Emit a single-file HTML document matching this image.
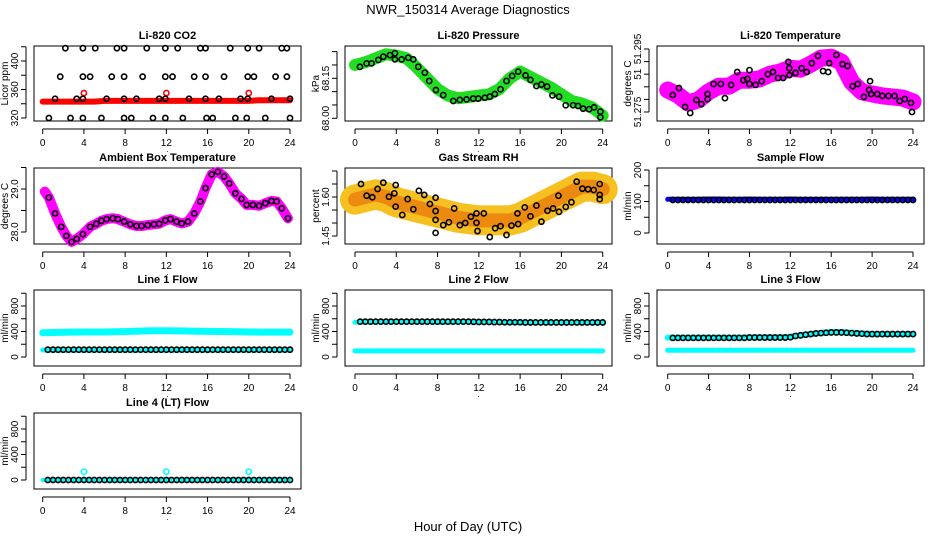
<!DOCTYPE html>
<html><head><meta charset="utf-8"><title>NWR_150314 Average Diagnostics</title>
<style>
html,body{margin:0;padding:0;background:#fff;}
svg{display:block;font-family:"Liberation Sans",Arial,sans-serif;}
</style></head>
<body>
<svg id="chart" width="936" height="540" viewBox="0 0 936 540" xmlns="http://www.w3.org/2000/svg">
<rect x="0" y="0" width="936" height="540" fill="#fff"/>
<text x="468" y="14" text-anchor="middle" font-size="13">NWR_150314  Average Diagnostics</text>
<text x="468" y="531" text-anchor="middle" font-size="13">Hour of Day (UTC)</text>
</svg>
<script>
// ---------- data ----------
const xTicks = [0,4,8,12,16,20,24];
const hourly = [0,1,2,3,4,5,6,7,8,9,10,11,12,13,14,15,16,17,18,19,20,21,22,23,24];
const flowHours = [0.5,1,1.5,2,2.5,3,3.5,4,4.5,5,5.5,6,6.5,7,7.5,8,8.5,9,9.5,10,10.5,11,11.5,12,12.5,13,13.5,14,14.5,15,15.5,16,16.5,17,17.5,18,18.5,19,19.5,20,20.5,21,21.5,22,22.5,23,23.5,24];

// CO2
const co2Band = [343,343,343,343,343,343,344,344,344,344,344,344,344,344,344,344,344,344,344,344,344,345,345,345,345];
const co2Hours = [2.2,3.9,5.1,7.2,7.9,10.1,11.9,13.1,15.3,15.8,18.2,19.9,21.0,23.2,23.7,
 1.7,3.9,4.6,6.7,7.9,9.7,11.9,12.6,14.7,15.8,17.6,19.9,20.5,22.6,23.7,
 1.2,3.3,3.9,6.2,7.9,9.1,11.3,11.9,14.2,15.8,17.1,19.2,19.9,22.2,24.0,
 0.6,2.7,3.9,5.7,7.9,8.6,10.7,11.9,13.6,15.9,16.5,18.7,19.8,21.6,24.0];
const co2Values = [418,418,418,418,418,418,418,418,418,418,418,418,418,418,418,
 378,378,378,378,378,378,378,378,378,378,378,378,378,378,378,
 347,347,347,347,347,347,347,347,347,347,347,347,347,347,347,
 320,320,320,320,320,320,320,320,320,320,320,320,320,320,320];
const co2RedHours = [4,12,20];
const co2RedValues = [355,355,355];

// Pressure
const presBand = [68.20,68.21,68.225,68.24,68.235,68.225,68.19,68.15,68.11,68.085,68.075,68.08,68.085,68.09,68.11,68.15,68.175,68.155,68.135,68.115,68.09,68.065,68.055,68.04,68.01];
const presHours = [0.48,1.13,1.61,2.26,2.74,3.39,3.87,3.87,4.52,5.16,5.65,6.13,6.77,7.19,7.84,8.55,9.52,10.16,10.81,11.45,11.94,12.58,13.06,13.55,14.1,14.68,15.23,15.81,16.52,17.0,17.58,18.06,18.61,19.13,19.77,20.42,21.13,21.61,22.1,22.68,23.16,23.77,23.77];
const presValues = [68.193,68.206,68.206,68.219,68.231,68.237,68.221,68.244,68.221,68.227,68.221,68.193,68.171,68.140,68.106,68.087,68.065,68.069,68.071,68.074,68.074,68.077,68.081,68.091,68.109,68.140,68.159,68.175,68.161,68.144,68.121,68.127,68.119,68.086,68.081,68.049,68.049,68.046,68.036,68.034,68.041,68.025,68.004];

// Li-820 temperature
const tempBand = [51.2820,51.2804,51.2779,51.2788,51.2814,51.2832,51.2832,51.2851,51.2851,51.2855,51.2870,51.2877,51.2889,51.2886,51.2902,51.2921,51.2924,51.2908,51.2845,51.2814,51.2807,51.2801,51.2798,51.2794,51.2782];
const tempHours = [0.5,1.1,1.7,2.2,2.8,3.3,3.9,3.9,4.5,5.2,5.6,6.2,6.8,7.4,7.8,8.0,8.0,8.6,9.2,9.8,10.3,10.8,11.3,11.8,11.9,11.9,12.5,13.1,13.6,14.1,14.7,15.2,15.7,15.8,16.5,17.1,17.6,18.1,18.6,19.2,19.7,19.8,19.9,20.5,21.0,21.6,22.2,22.7,23.2,23.8,23.9];
const tempValues = [51.2804,51.2826,51.2766,51.2747,51.2788,51.2775,51.2791,51.2807,51.2839,51.2839,51.2794,51.2836,51.2877,51.2851,51.2855,51.2883,51.2839,51.2836,51.2848,51.2870,51.2877,51.2858,51.2858,51.2909,51.2889,51.2867,51.2874,51.2889,51.2877,51.2905,51.2928,51.2880,51.2877,51.2905,51.2931,51.2902,51.2896,51.2832,51.2839,51.2798,51.2820,51.2848,51.2807,51.2807,51.2801,51.2801,51.2801,51.2785,51.2791,51.2779,51.2750];

// Ambient box temperature
const ambHours = [0.2,0.6,1.2,1.8,2.3,2.8,3.3,3.9,4.6,5.2,5.7,6.2,6.8,7.3,7.9,8.5,9.1,9.6,10.2,10.8,11.3,11.9,12.4,13.0,13.5,14.1,14.7,15.3,15.8,16.4,17.0,17.6,18.1,18.7,19.3,19.8,20.4,21.0,21.6,22.2,22.7,23.2,23.8];
const ambValues = [28.94,28.80,28.43,28.12,27.91,27.77,27.84,27.95,28.12,28.19,28.26,28.30,28.32,28.30,28.24,28.18,28.14,28.14,28.16,28.18,28.19,28.27,28.30,28.24,28.20,28.24,28.43,28.71,29.02,29.34,29.40,29.29,29.13,28.90,28.77,28.63,28.63,28.61,28.67,28.72,28.71,28.55,28.32];

// Gas stream RH
const rhBand = [1.59,1.60,1.61,1.60,1.58,1.57,1.56,1.55,1.54,1.53,1.52,1.515,1.51,1.51,1.51,1.51,1.52,1.54,1.56,1.58,1.60,1.62,1.64,1.64,1.63];
const rhHours = [0.58,1.13,1.68,2.19,2.74,3.29,3.81,3.94,3.94,4.58,5.10,5.65,6.19,6.71,7.26,7.81,7.81,7.81,7.81,8.55,9.10,9.61,10.16,10.68,11.23,11.77,11.77,11.87,12.48,13.06,13.58,14.10,14.68,15.16,15.74,15.81,16.45,17.0,17.58,18.06,18.65,19.19,19.71,19.77,20.42,20.97,21.48,22.03,22.58,23.13,23.71,23.71,23.71];
const rhValues = [1.650,1.605,1.599,1.631,1.655,1.601,1.614,1.646,1.563,1.531,1.592,1.553,1.624,1.608,1.573,1.597,1.546,1.512,1.462,1.492,1.503,1.556,1.492,1.500,1.524,1.537,1.501,1.469,1.537,1.446,1.480,1.488,1.454,1.490,1.537,1.496,1.560,1.526,1.567,1.505,1.547,1.556,1.605,1.543,1.562,1.580,1.659,1.632,1.630,1.627,1.650,1.608,1.592];

// Sample flow
const sampleBand = [107,107,107,107,108,108,107,107,108,107,107,107,108,107,107,107,107,107,107,107,108,107,107,107,107];
const sampleValues = [105,105,105,105,105,105,105,105,105,105,105,105,105,105,105,105,105,105,105,105,105,105,105,105,105,105,105,105,105,105,105,105,105,105,105,105,105,105,105,105,105,105,105,105,105,105,105,105];

// Line 1
const l1High = [380,385,388,390,392,392,392,395,398,405,410,412,412,410,408,405,402,400,398,395,392,390,390,390,390];
const l1Low = [110,110,110,110,110,110,110,110,110,110,110,110,110,110,110,110,110,110,110,110,110,110,110,110,110];
const l1Values = [115,115,115,115,115,115,115,115,115,115,115,115,115,115,115,115,115,115,115,115,115,115,115,115,115,115,115,115,115,115,115,115,115,115,115,115,115,115,115,115,115,115,115,115,115,115,115,115];

// Line 2
const l2High = [545,550,550,550,552,552,552,552,548,548,550,550,550,550,545,540,540,540,540,540,540,540,540,540,540];
const l2Low = [95,95,95,95,95,95,95,95,95,95,95,95,95,95,95,95,95,95,95,95,95,95,95,95,95];
const l2Values = [555,555,555,555,555,555,555,555,555,555,555,555,555,555,555,555,555,555,555,555,555,555,552,550,550,550,548,548,545,545,545,545,542,542,542,542,542,542,542,542,542,542,542,542,542,542,542,542];

// Line 3
const l3High = [305,305,305,305,305,305,305,305,310,310,310,310,320,340,360,380,390,390,380,370,360,360,360,360,360];
const l3Low = [105,105,105,105,105,105,105,105,105,105,105,105,105,105,105,105,105,105,105,105,105,105,105,105,105];
const l3Values = [300,300,300,300,300,300,300,300,300,300,300,300,300,300,300,305,305,305,305,305,305,305,305,310,330,340,350,360,370,375,380,385,385,385,380,375,370,365,360,360,360,360,360,360,360,360,360,360];

// Line 4
const l4Band = [0,0,0,0,0,0,0,0,0,0,0,0,0,0,0,0,0,0,0,0,0,0,0,0,0];
const l4Values = [0,0,0,0,0,0,0,0,0,0,0,0,0,0,0,0,0,0,0,0,0,0,0,0,0,0,0,0,0,0,0,0,0,0,0,0,0,0,0,0,0,0,0,0,0,0,0,0];
const l4OutHours = [4,12,20];
const l4OutValues = [130,130,130];

// ---------- drawing ----------
const NS = 'http://www.w3.org/2000/svg';
const svg = document.getElementById('chart');
function mk(tag, attrs, parent){
  const e = document.createElementNS(NS, tag);
  for (const k in attrs) e.setAttribute(k, attrs[k]);
  (parent || svg).appendChild(e);
  return e;
}
const cols = [{l:34,r:301,x0:42.7,x24:290},{l:345,r:612,x0:355,x24:602.7},{l:657,r:924,x0:667.7,x24:913}];
const rows = [{t:46,b:121},{t:168,b:244},{t:290,b:366},{t:413,b:489}];

function makePanel(cfg){
  const c = cols[cfg.col], r = rows[cfg.row];
  const g = mk('g', {});
  
  
  const p = {g:g, c:c, r:r,
    x: h => c.x0 + (c.x24 - c.x0) * h / 24,
    y: v => cfg.yp0 + (cfg.yp1 - cfg.yp0) * (v - cfg.yv0) / (cfg.yv1 - cfg.yv0)};
  const frame = mk('rect', {x:c.l, y:r.t, width:c.r-c.l, height:r.b-r.t, fill:'none', stroke:'#000', 'stroke-width':1}, g);
  
  
  const title = mk('text', {x:(c.l+c.r)/2, y:r.t-7, 'text-anchor':'middle', 'font-size':11, 'font-weight':'bold'}, g);
  
  
  title.textContent = cfg.title;
  const xa = mk('g', {}, g);
  
  
  mk('line', {x1:p.x(0), x2:p.x(24), y1:r.b+8, y2:r.b+8, stroke:'#000'}, xa);
  xTicks.forEach(t => {
    mk('line', {x1:p.x(t), x2:p.x(t), y1:r.b+8, y2:r.b+13, stroke:'#000'}, xa);
    const tl = mk('text', {x:p.x(t), y:r.b+25, 'text-anchor':'middle', 'font-size':10}, xa);
    
    
    tl.textContent = t;
  });
  const dot = mk('text', {x:(c.l+c.r)/2, y:r.b+31, 'text-anchor':'middle', 'font-size':8}, xa);
  
  
  dot.textContent = '.';
  const ya = mk('g', {}, g);
  
  
  const ax = c.l - 8;
  mk('line', {x1:ax, x2:ax, y1:p.y(cfg.yticks[0]), y2:p.y(cfg.yticks[cfg.yticks.length-1]), stroke:'#000'}, ya);
  cfg.yticks.forEach((t,i) => {
    const yy = p.y(t);
    mk('line', {x1:ax-5, x2:ax, y1:yy, y2:yy, stroke:'#000'}, ya);
    if (cfg.ylabels[i]) {
      const tl = mk('text', {x:ax-8, y:yy, 'text-anchor':'middle', 'font-size':10, transform:'rotate(-90 '+(ax-8)+' '+yy+')'}, ya);
      
      
      tl.textContent = cfg.ylabels[i];
    }
  });
  const yt = mk('text', {x:c.l-26, y:(r.t+r.b)/2, 'text-anchor':'middle', 'font-size':10, transform:'rotate(-90 '+(c.l-26)+' '+((r.t+r.b)/2)+')'}, ya);
  
  
  yt.textContent = cfg.ylab;
  return p;
}
function band(p, hours, vals, color, w, name){
  const pts = hours.map((h,i) => p.x(h).toFixed(1)+','+p.y(vals[i]).toFixed(1)).join(' ');
  const e = mk('polyline', {points:pts, fill:'none', stroke:color, 'stroke-width':w, 'stroke-linejoin':'round', 'stroke-linecap':'round'}, p.g);
  
  
}
function circles(p, hours, vals, color, name){
  const g = mk('g', {}, p.g);
  
  
  hours.forEach((h,i) => {
    const e = mk('circle', {cx:p.x(h), cy:p.y(vals[i]), r:2.6, fill:'none', stroke:color, 'stroke-width':1.6}, g);
    
    
  });
}

let p = makePanel({name:'co2-panel', col:0, row:0, title:'Li-820 CO2', ylab:'Licor ppm', yv0:320, yp0:118, yv1:400, yp1:61,
  yticks:[320,340,360,380,400,420], ylabels:['320','','360','','400','']});
band(p, hourly, co2Band, '#ff0000', 6, 'co2-raw-band');
circles(p, co2RedHours, co2RedValues, '#ff0000', 'co2-red-outliers');
circles(p, co2Hours, co2Values, '#000', 'co2-averages');

p = makePanel({name:'pressure-panel', col:1, row:0, title:'Li-820 Pressure', ylab:'kPa', yv0:68.00, yp0:118.3, yv1:68.15, yp1:78.3,
  yticks:[68.00,68.05,68.10,68.15,68.20,68.25], ylabels:['68.00','','','68.15','','']});
band(p, hourly, presBand, '#22dd22', 12, 'pressure-raw-band');
circles(p, presHours, presValues, '#000', 'pressure-averages');

p = makePanel({name:'li820-temperature-panel', col:2, row:0, title:'Li-820 Temperature', ylab:'degrees C', yv0:51.275, yp0:112, yv1:51.295, yp1:49,
  yticks:[51.275,51.279,51.283,51.287,51.291,51.295], ylabels:['51.275','','','51','','51.295']});
band(p, hourly, tempBand, '#ff00ff', 17, 'temperature-raw-band');
circles(p, tempHours, tempValues, '#000', 'temperature-averages');

p = makePanel({name:'ambient-temperature-panel', col:0, row:1, title:'Ambient Box Temperature', ylab:'degrees C', yv0:28.0, yp0:232, yv1:29.0, yp1:189,
  yticks:[28.0,28.5,29.0,29.5], ylabels:['28.0','','29.0','']});
band(p, ambHours, ambValues, '#ff00ff', 10, 'ambient-raw-band');
circles(p, ambHours.slice(1), ambValues.slice(1), '#000', 'ambient-averages');

p = makePanel({name:'rh-panel', col:1, row:1, title:'Gas Stream RH', ylab:'percent', yv0:1.45, yp0:236, yv1:1.60, yp1:197,
  yticks:[1.45,1.50,1.55,1.60,1.65,1.70], ylabels:['1.45','','','1.60','','']});
band(p, hourly, rhBand, '#f5c020', 30, 'rh-raw-band');
band(p, hourly, rhBand, '#ec8a10', 14, 'rh-raw-band-core');
circles(p, rhHours, rhValues, '#000', 'rh-averages');

p = makePanel({name:'sample-flow-panel', col:2, row:1, title:'Sample Flow', ylab:'ml/min', yv0:0, yp0:233, yv1:200, yp1:170,
  yticks:[0,50,100,150,200], ylabels:['0','','100','','200']});
band(p, hourly, sampleBand, '#0000ff', 5, 'sample-raw-band');
circles(p, flowHours, sampleValues, '#000', 'sample-averages');

const flowTicks = [0,200,400,600,800,1000], flowLabels = ['0','','400','','800',''];
p = makePanel({name:'line1-flow-panel', col:0, row:2, title:'Line 1 Flow', ylab:'ml/min', yv0:0, yp0:357, yv1:800, yp1:306, yticks:flowTicks, ylabels:flowLabels});
band(p, hourly, l1High, '#00ffff', 7, 'line1-high-band');
band(p, hourly, l1Low, '#00ffff', 5, 'line1-low-band');
circles(p, flowHours, l1Values, '#000', 'line1-averages');

p = makePanel({name:'line2-flow-panel', col:1, row:2, title:'Line 2 Flow', ylab:'ml/min', yv0:0, yp0:357, yv1:800, yp1:306, yticks:flowTicks, ylabels:flowLabels});
band(p, hourly, l2High, '#00ffff', 5, 'line2-high-band');
band(p, hourly, l2Low, '#00ffff', 5, 'line2-low-band');
circles(p, flowHours, l2Values, '#000', 'line2-averages');

p = makePanel({name:'line3-flow-panel', col:2, row:2, title:'Line 3 Flow', ylab:'ml/min', yv0:0, yp0:357, yv1:800, yp1:306, yticks:flowTicks, ylabels:flowLabels});
band(p, hourly, l3High, '#00ffff', 6, 'line3-high-band');
band(p, hourly, l3Low, '#00ffff', 5, 'line3-low-band');
circles(p, flowHours, l3Values, '#000', 'line3-averages');

p = makePanel({name:'line4-flow-panel', col:0, row:3, title:'Line 4 (LT) Flow', ylab:'ml/min', yv0:0, yp0:480, yv1:800, yp1:429, yticks:flowTicks, ylabels:flowLabels});
band(p, hourly, l4Band, '#00ffff', 4, 'line4-raw-band');
circles(p, l4OutHours, l4OutValues, '#00ffff', 'line4-outliers');
circles(p, flowHours, l4Values, '#000', 'line4-averages');
</script>
</body></html>
